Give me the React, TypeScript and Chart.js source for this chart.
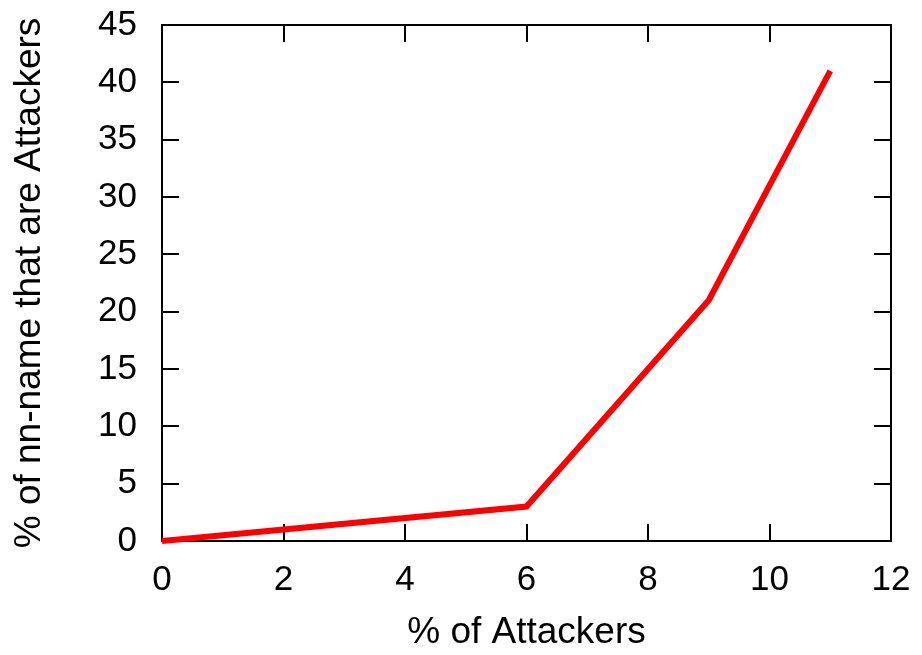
import React, { useEffect, useRef } from "react";
import { Chart, registerables } from "chart.js";

Chart.register(...registerables);

const xValues = [0, 6, 9, 11];
const yValues = [0, 3, 21, 41];
const xTicks = [0, 2, 4, 6, 8, 10, 12];
const yTicks = [0, 5, 10, 15, 20, 25, 30, 35, 40, 45];
const xTitle = "% of Attackers";
const yTitle = "% of nn-name that are Attackers";

const FONT = "'Liberation Sans', Arial, Helvetica, sans-serif";
const TICK_LEN = 17;

const framePlugin = {
  id: "gnuFrame",
  beforeDatasetsDraw(chart: any) {
    const { ctx, chartArea: a, scales } = chart;
    ctx.save();
    ctx.strokeStyle = "#000";
    ctx.lineWidth = 2;
    ctx.beginPath();
    for (const v of xTicks) {
      const px = Math.round(scales.x.getPixelForValue(v));
      ctx.moveTo(px, a.bottom);
      ctx.lineTo(px, a.bottom - TICK_LEN);
      ctx.moveTo(px, a.top);
      ctx.lineTo(px, a.top + TICK_LEN);
    }
    for (const v of yTicks) {
      const py = Math.round(scales.y.getPixelForValue(v));
      ctx.moveTo(a.left, py);
      ctx.lineTo(a.left + TICK_LEN, py);
      ctx.moveTo(a.right, py);
      ctx.lineTo(a.right - TICK_LEN, py);
    }
    ctx.stroke();
    ctx.strokeRect(a.left, a.top, a.right - a.left, a.bottom - a.top);
    ctx.restore();
  },
};

export default function App() {
  const ref = useRef<HTMLCanvasElement | null>(null);
  useEffect(() => {
    document.body.style.margin = "0";
    const canvas = ref.current!;
    const chart = new Chart(canvas, {
      type: "line",
      data: {
        datasets: [
          {
            data: xValues.map((x, i) => ({ x, y: yValues[i] })),
            borderColor: "#ff0000",
            borderWidth: 6,
            pointRadius: 0,
            tension: 0,
            clip: false as any,
          },
        ],
      },
      options: {
        responsive: false,
        animation: false,
        maintainAspectRatio: false,
        layout: { padding: { top: 25, right: 31, left: 0, bottom: 0 } },
        plugins: { legend: { display: false }, tooltip: { enabled: false } },
        scales: {
          x: {
            type: "linear",
            min: 0,
            max: 12,
            afterFit: (s: any) => {
              s.height = 114;
              s.paddingLeft = 0;
              s.paddingRight = 0;
            },
            afterBuildTicks: (s: any) => {
              s.ticks = xTicks.map((v) => ({ value: v }));
            },
            grid: { display: false, drawTicks: false },
            border: { display: false },
            ticks: {
              color: "#000",
              padding: 18,
              maxRotation: 0,
              font: { family: FONT, size: 35 },
            },
            title: {
              display: true,
              text: xTitle,
              color: "#000",
              font: { family: FONT, size: 37 },
              padding: { top: 0, bottom: 0 },
            },
          },
          y: {
            type: "linear",
            min: 0,
            max: 45,
            afterFit: (s: any) => {
              s.width = 162;
              s.paddingTop = 0;
              s.paddingBottom = 0;
            },
            afterBuildTicks: (s: any) => {
              s.ticks = yTicks.map((v) => ({ value: v }));
            },
            grid: { display: false, drawTicks: false },
            border: { display: false },
            ticks: {
              color: "#000",
              padding: 25,
              font: { family: FONT, size: 35 },
            },
            title: {
              display: true,
              text: yTitle,
              color: "#000",
              font: { family: FONT, size: 37 },
              padding: { top: 8, bottom: 0 },
            },
          },
        },
      },
      plugins: [framePlugin],
    });
    return () => chart.destroy();
  }, []);
  return <canvas ref={ref} width={922} height={655} style={{ display: "block" }} />;
}
